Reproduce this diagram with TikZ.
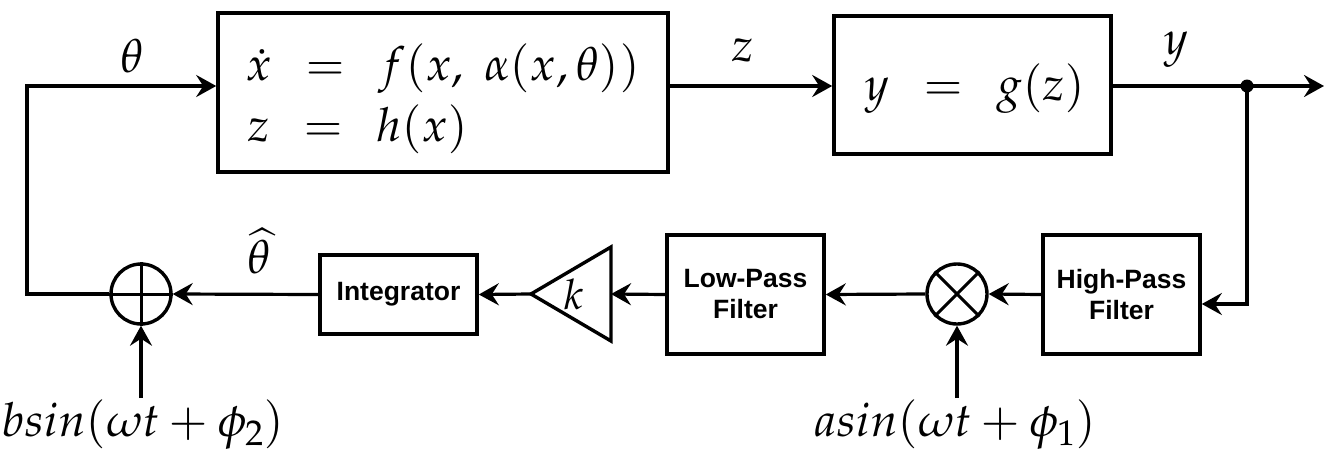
\documentclass[tikz,border=0pt]{standalone}
\usepackage{mathpazo}
\usepackage[no-math]{fontspec}
\newfontfamily\labfont{Liberation Sans}
\usetikzlibrary{arrows.meta}
\begin{document}
\begin{tikzpicture}[x=1pt,y=-1pt,
  line width=3.4pt,
  arr/.style={-{Stealth[length=20pt,width=22pt,inset=7pt]}, line width=3.2pt},
  blk/.style={draw, line width=3.6pt, inner sep=0pt},
  sig/.style={font=\fontsize{47}{52}\selectfont, inner sep=0pt},
  lab/.style={font=\labfont\bfseries\fontsize{26.5}{31}\selectfont, align=center},
  junc/.style={circle, draw, line width=3.4pt, minimum size=60pt, inner sep=0pt}
]
\useasboundingbox (0,0) rectangle (1326,453);
% blocks
\node[blk, minimum width=450pt, minimum height=159pt] (main) at (443,92.5) {};
\node[sig, anchor=base west] (eqA) at (244,80) {$\dot{x} \;\,=\;\, f(x,\; \alpha(x,\theta))$};
\node[sig, anchor=base west] (eqB) at (246,141) {$z \;\,=\;\, h(x)$};
\node[blk, minimum width=277pt, minimum height=138pt] (gblk) at (972.5,85) {};
\node[sig, anchor=base] (eqC) at (975,100) {$y \;\,=\;\, g(z)$};
\node[blk, lab, minimum width=157pt, minimum height=119pt] (hpf) at (1121.5,294.5) {High-Pass\\Filter};
\node[blk, lab, minimum width=157pt, minimum height=119pt] (lpf) at (745.5,294.5) {Low-Pass\\Filter};
\node[blk, lab, minimum width=157pt, minimum height=79pt] (int) at (398.5,294.5) {Integrator};
\node[junc] (mul) at (957,294) {};
\draw[line width=3pt] (mul.north west) -- (mul.south east) (mul.north east) -- (mul.south west);
\node[junc] (sum) at (141,294) {};
\draw[line width=3pt] (sum.north) -- (sum.south) (sum.west) -- (sum.east);
% gain triangle
\coordinate (ktip) at (531,294);
\coordinate (kback) at (611,294);
\draw[line width=3.4pt, line join=miter] (ktip) -- (611,247) -- (611,341) -- cycle;
\node[sig, font=\fontsize{42}{46}\selectfont] (kk) at (574,294) {$k$};
% points
\coordinate (c1) at (27,294);
\coordinate (c2) at (27,86);
\coordinate (dot) at (1247,86);
\coordinate (out) at (1324,86);
\coordinate (c3) at (1247,304);
\coordinate (ain) at (957,398);
\coordinate (bin) at (141,398);
\fill (dot) circle (6.5pt);
% connectors
\draw[arr] (sum.west) -- (c1) -- (c2) -- (main.west |- c2);
\draw[arr] (main.east |- c2) -- (gblk.west |- c2);
\draw[arr] (gblk.east |- c2) -- (out);
\draw[arr] (dot) -- (c3) -- (hpf.east |- c3);
\draw[arr] (hpf.west) -- (mul.east);
\draw[arr] (mul.west) -- (lpf.east);
\draw[arr] (lpf.west) -- (kback);
\draw[arr] (ktip) -- (int.east);
\draw[arr] (int.west) -- (sum.east);
\draw[arr] (ain) -- (mul.south);
\draw[arr] (bin) -- (sum.south);
% labels
\node[sig] (lth) at (132,56) {$\theta$};
\node[sig] (lz) at (743,50) {$z$};
\node[sig] (ly) at (1176,50) {$y$};
\node[sig] (lth2) at (259,251) {$\widehat{\theta}$};
\node[sig] (la) at (955,425) {$asin(\omega t+\phi_1)$};
\node[sig] (lb) at (143,425) {$bsin(\omega t+\phi_2)$};
\end{tikzpicture}
\end{document}
